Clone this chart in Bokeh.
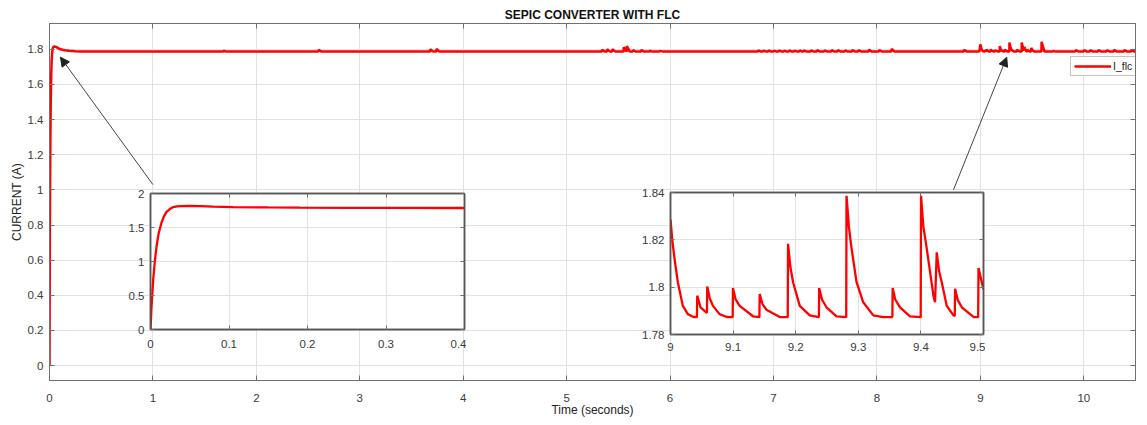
from bokeh.plotting import figure
from bokeh.models import Range1d, LinearAxis, FixedTicker, Arrow, NormalHead, Legend, LegendItem
from bokeh.layouts import column
from bokeh.embed import file_html
from bokeh.resources import INLINE

FONT = "Liberation Sans"
RED = "#ff0000"
FRAME = "#707070"
GRID = "#e2e2e2"
TXT = "#3a3a3a"

# ---------------- data ----------------
BASE = 1.787  # steady-state current

startup_t = [0, 0.0013, 0.0034, 0.0055, 0.0077, 0.0105, 0.014, 0.017, 0.0204, 0.025,
             0.029, 0.034, 0.04, 0.05, 0.063, 0.08, 0.105, 0.15, 0.19, 0.25, 0.3, 0.4]
startup_i = [0, 0.33, 0.73, 1.0, 1.22, 1.42, 1.57, 1.66, 1.73, 1.775,
             1.80, 1.81, 1.815, 1.816, 1.814, 1.808, 1.80, 1.795, 1.792, 1.789, 1.788, 1.787]

# small disturbances before the zoomed window (time, peak)
spikes_before_t = [1.68, 2.6, 3.68, 3.74, 5.34, 5.39, 5.44, 5.55, 5.58, 5.64, 5.72, 5.8, 5.9,
                   6.85, 6.9, 6.95, 7.0, 7.05, 7.1, 7.15, 7.2, 7.25, 7.29, 7.36, 7.42, 7.49,
                   7.56, 7.62, 7.69, 7.76, 7.82, 7.92, 8.02, 8.14, 8.84]
spikes_before_pk = [1.792, 1.797, 1.80, 1.803, 1.797, 1.80, 1.80, 1.812, 1.818, 1.795, 1.796, 1.792, 1.791,
                    1.794, 1.793, 1.794, 1.793, 1.794, 1.793, 1.794, 1.793, 1.794, 1.794, 1.794, 1.795, 1.794,
                    1.795, 1.795, 1.794, 1.796, 1.795, 1.798, 1.796, 1.803, 1.797]

# zoomed window 9.0 - 9.5 s
detail_t = [9.0, 9.003, 9.0064, 9.0117, 9.0197, 9.0277, 9.037, 9.0422, 9.0427, 9.048, 9.0571,
            9.0582, 9.0587, 9.0625, 9.0678, 9.0784, 9.09, 9.0993, 9.0998, 9.104, 9.1105, 9.1318, 9.142,
            9.1425, 9.147, 9.1532, 9.1745, 9.1873, 9.1878, 9.1915, 9.1958, 9.2065, 9.2225, 9.237, 9.2375,
            9.242, 9.2492, 9.2652, 9.2807, 9.2812, 9.285, 9.2892, 9.2972, 9.3079, 9.3239, 9.34, 9.3544,
            9.3549, 9.359, 9.3666, 9.3826, 9.3997, 9.4002, 9.404, 9.4093, 9.42, 9.4226, 9.4253, 9.429, 9.4333,
            9.4413, 9.452, 9.4541, 9.4546, 9.459, 9.4653, 9.484, 9.4915, 9.492, 9.5]
detail_i = [1.8286, 1.8195, 1.8121, 1.8021, 1.7921, 1.7886, 1.7874, 1.7873, 1.7964, 1.7915, 1.7893,
            1.7892, 1.8003, 1.7955, 1.7921, 1.7886, 1.7874, 1.7873, 1.7996, 1.7948, 1.7921, 1.7877, 1.7873,
            1.7971, 1.7928, 1.7905, 1.7874, 1.7873, 1.8183, 1.8085, 1.8021, 1.7921, 1.7881, 1.7873, 1.7996,
            1.7948, 1.7915, 1.7877, 1.7873, 1.8386, 1.8255, 1.8164, 1.8021, 1.7936, 1.7881, 1.7873, 1.7874,
            1.7996, 1.7948, 1.7915, 1.7877, 1.7873, 1.8386, 1.8255, 1.8164, 1.7964, 1.7936, 1.8147, 1.8068, 1.8021,
            1.7921, 1.7881, 1.7878, 1.7993, 1.7945, 1.7915, 1.7874, 1.7873, 1.8081, 1.7990]

spikes_after_t = [9.59, 9.7, 9.92, 10.0, 10.06, 10.14, 10.22, 10.29, 10.39, 10.46, 10.53]
spikes_after_pk = [1.843, 1.79, 1.795, 1.796, 1.795, 1.796, 1.795, 1.797, 1.796, 1.797, 1.795]

x_ticks = [0, 1, 2, 3, 4, 5, 6, 7, 8, 9, 10]
y_ticks = [0, 0.2, 0.4, 0.6, 0.8, 1, 1.2, 1.4, 1.6, 1.8]
y_tick_labels = ["0", "0.2", "0.4", "0.6", "0.8", "1", "1.2", "1.4", "1.6", "1.8"]

in1_x_ticks = [0, 0.1, 0.2, 0.3, 0.4]
in1_x_labels = ["0", "0.1", "0.2", "0.3", "0.4"]
in1_y_ticks = [0, 0.5, 1, 1.5, 2]
in1_y_labels = ["0", "0.5", "1", "1.5", "2"]

in2_x_ticks = [9, 9.1, 9.2, 9.3, 9.4, 9.5]
in2_x_labels = ["9", "9.1", "9.2", "9.3", "9.4", "9.5"]
in2_y_ticks = [1.78, 1.8, 1.82, 1.84]
in2_y_labels = ["1.78", "1.8", "1.82", "1.84"]

# assemble full-length trace
t_main = list(startup_t)
i_main = list(startup_i)
for ts, pk in zip(spikes_before_t, spikes_before_pk):
    t_main += [ts, ts + 0.002, ts + 0.03]
    i_main += [BASE, pk, BASE]
t_main += [8.99] + detail_t
i_main += [BASE] + detail_i
t_main += [9.52]
i_main += [BASE]
for ts, pk in zip(spikes_after_t, spikes_after_pk):
    t_main += [ts, ts + 0.002, ts + 0.03]
    i_main += [BASE, pk, BASE]
t_main += [10.6]
i_main += [BASE]

# all figures in the column share the same left/right borders (the layout aligns them)
BORDER_L = 43
BORDER_R = 2


def style_axis(ax, ticks, labels, size="11.5px", standoff=6, tick_len=5):
    ax.ticker = FixedTicker(ticks=ticks)
    ax.major_tick_in = tick_len
    ax.major_tick_out = 0
    ax.minor_tick_line_color = None
    ax.axis_line_color = FRAME
    ax.major_tick_line_color = FRAME
    ax.major_label_text_font = FONT
    ax.major_label_text_color = TXT
    ax.axis_label_standoff = 0
    if labels is None:
        ax.major_label_text_font_size = "1px"
        ax.major_label_standoff = 0
        ax.major_label_overrides = {t: "" for t in ticks}
    else:
        ax.major_label_text_font_size = size
        ax.major_label_standoff = standoff
        ax.major_label_overrides = {t: l for t, l in zip(ticks, labels)}


def add_box_axes(fig, xt, yt, tick_len=5):
    top = LinearAxis()
    style_axis(top, xt, None, tick_len=tick_len)
    fig.add_layout(top, "above")
    right = LinearAxis()
    style_axis(right, yt, None, tick_len=tick_len)
    fig.add_layout(right, "right")


# ---------------- main figure ----------------
p = figure(width=1131, height=417, x_range=Range1d(0, 10.50), y_range=Range1d(-0.085, 1.947),
           output_backend="svg", toolbar_location=None,
           min_border_left=BORDER_L, min_border_right=BORDER_R, min_border_top=17, min_border_bottom=41,
           background_fill_color="white", border_fill_color="white")
p.outline_line_color = FRAME
p.title.text = "SEPIC CONVERTER WITH FLC"
p.title.align = "center"
p.title.text_font = FONT
p.title.text_font_size = "12px"
p.title.text_font_style = "bold"
p.title.text_color = "#111111"
p.title.standoff = 3

style_axis(p.xaxis[0], x_ticks, [str(v) for v in x_ticks], standoff=13)
style_axis(p.yaxis[0], y_ticks, y_tick_labels, standoff=6)
p.xaxis[0].axis_label = "Time (seconds)"
p.yaxis[0].axis_label = "CURRENT (A)"
for ax in (p.xaxis[0], p.yaxis[0]):
    ax.axis_label_text_font = FONT
    ax.axis_label_text_font_style = "normal"
    ax.axis_label_text_font_size = "12px"
    ax.axis_label_text_color = "#222222"
p.xaxis[0].axis_label_standoff = -2
p.yaxis[0].axis_label_standoff = 1
add_box_axes(p, x_ticks, y_ticks)
p.xgrid.ticker = FixedTicker(ticks=x_ticks)
p.ygrid.ticker = FixedTicker(ticks=y_ticks)
p.grid.grid_line_color = GRID

r_main = p.line(t_main, i_main, line_color=RED, line_width=2.5)

legend = Legend(items=[LegendItem(label="I_flc", renderers=[r_main])], location=(1021, 304),
                label_text_font=FONT, label_text_font_size="10.5px", label_text_color="#222222",
                glyph_width=37, glyph_height=10, label_standoff=2, padding=3, margin=0,
                border_line_color="#8a8a8a", background_fill_color="white", label_height=10)
p.add_layout(legend)

# arrows pointing from insets to the zoomed regions
ARROW1 = dict(x_start=1.0, y_start=1.03, x_end=0.106, y_end=1.755)
ARROW2 = dict(x_start=8.74, y_start=1.0, x_end=9.255, y_end=1.755)
for a in (ARROW1, ARROW2):
    p.add_layout(Arrow(end=NormalHead(size=9, fill_color="#222222", line_color="#222222"),
                       line_color="#444444", line_width=1, **a))


# ---------------- inset figures ----------------
def make_inset(frame_w, frame_h, xr, yr, left, top, xt, xl, yt, yl, xs, ys, xstand):
    f = figure(width=BORDER_L + frame_w + BORDER_R, height=5 + frame_h + 25,
               x_range=Range1d(*xr), y_range=Range1d(*yr),
               output_backend="svg", toolbar_location=None,
               min_border_left=BORDER_L, min_border_right=BORDER_R, min_border_top=5, min_border_bottom=25,
               background_fill_color="white", border_fill_alpha=0,
               styles={"position": "absolute", "left": f"{left}px", "top": f"{top}px"})
    f.outline_line_color = "#555555"
    f.outline_line_width = 1.5
    style_axis(f.xaxis[0], xt, xl, standoff=xstand, tick_len=4)
    style_axis(f.yaxis[0], yt, yl, standoff=6, tick_len=4)
    add_box_axes(f, xt, yt, tick_len=4)
    for ax in f.axis:
        ax.axis_line_color = "#555555"
        ax.axis_line_width = 1.5
    f.xgrid.ticker = FixedTicker(ticks=xt)
    f.ygrid.ticker = FixedTicker(ticks=yt)
    f.grid.grid_line_color = GRID
    f.line(xs, ys, line_color=RED, line_width=2.3)
    return f


inset1 = make_inset(314, 136, (0, 0.4), (0, 2), 101, 184,
                    in1_x_ticks, in1_x_labels, in1_y_ticks, in1_y_labels, startup_t, startup_i, 10)
inset2 = make_inset(313, 142, (9, 9.5), (1.78, 1.84), 621, 183,
                    in2_x_ticks, in2_x_labels, in2_y_ticks, in2_y_labels, detail_t, detail_i, 8)

layout = column(p, inset1, inset2,
                styles={"position": "relative", "margin-left": "6px", "margin-top": "4px"})

open("out.html", "w").write(file_html(layout, INLINE))
